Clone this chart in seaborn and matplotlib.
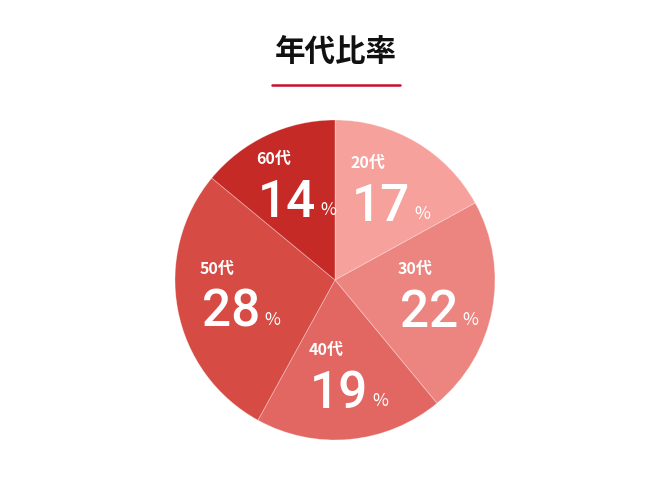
import numpy as np
import matplotlib
matplotlib.use("Agg")
import matplotlib.pyplot as plt
import seaborn as sns

# Data
title = "年代比率"
ages = ["20代", "30代", "40代", "50代", "60代"]
shares = [17, 22, 19, 28, 14]
colors = ["#F7A19D", "#EC857F", "#E26762", "#D64B44", "#C62A26"]

sns.set_theme(style="white")
plt.rcParams['font.family'] = ['Noto Sans CJK JP', 'DejaVu Sans']

W, H = 670, 480
fig = plt.figure(figsize=(W / 100, H / 100), dpi=100)
fig.patch.set_facecolor("white")

# pie centered at (335, 280) px with radius 160 px
cx, cy, r = 335, 280, 160
ax = fig.add_axes([(cx - r) / W, (H - cy - r) / H, 2 * r / W, 2 * r / H])
wedges, _ = ax.pie(shares, colors=colors, startangle=90, counterclock=False,
                   radius=1, wedgeprops=dict(edgecolor=(1, 1, 1, 0.35), linewidth=0.6))
ax.set_xlim(-1, 1)
ax.set_ylim(-1, 1)
ax.set_aspect("equal")
ax.axis("off")

for w, age, val in zip(wedges, ages, shares):
    mid = np.deg2rad((w.theta1 + w.theta2) / 2)
    gx, gy = 0.63 * np.cos(mid), 0.63 * np.sin(mid)
    # big number
    ax.annotate(str(val), (gx, gy), xytext=(-5, -14), textcoords="offset pixels",
                ha="center", va="center", fontsize=37, fontweight="medium",
                family=["Roboto", "DejaVu Sans"], color="white")
    # age label
    ax.annotate(age, (gx, gy), xytext=(-36, 30), textcoords="offset pixels",
                ha="left", va="center", fontsize=11.5, fontweight="bold", color="white")
    # percent sign
    ax.annotate("%", (gx, gy), xytext=(28, -21), textcoords="offset pixels",
                ha="left", va="center", fontsize=12.5, color="white")

# title and underline
fig.text(336 / W, 1 - 52 / H, title, ha="center", va="center",
         fontsize=22, fontweight="bold", color="#111111")
fig.add_artist(plt.Line2D([272 / W, 400 / W], [1 - 85 / H, 1 - 85 / H],
                          color="#C8102E", linewidth=1.8))

fig.savefig("out.png", dpi=100, facecolor="white")
